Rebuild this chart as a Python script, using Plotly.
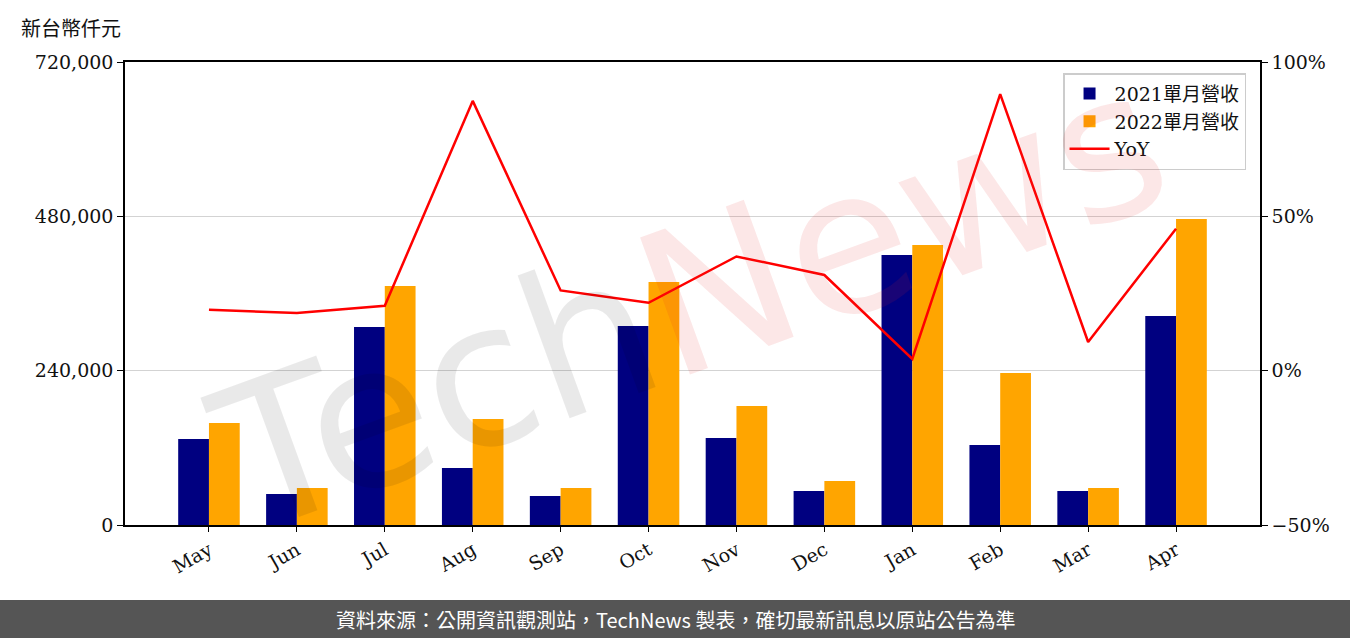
import plotly.graph_objects as go

months = ["May", "Jun", "Jul", "Aug", "Sep", "Oct", "Nov", "Dec", "Jan", "Feb", "Mar", "Apr"]
rev_2021 = [133700, 48200, 307900, 88600, 45100, 309400, 135300, 52900, 419900, 124400, 52900, 325000]
rev_2022 = [158600, 57500, 371600, 164800, 57500, 377900, 185000, 68400, 435400, 236400, 57500, 475800]
yoy = [0.197, 0.187, 0.21, 0.874, 0.26, 0.22, 0.37, 0.31, 0.038, 0.896, 0.093, 0.46]

left_ticks = [0, 240000, 480000, 720000]
right_ticks = [-0.5, 0, 0.5, 1.0]

SERIF = "DejaVu Serif, Noto Sans CJK TC, serif"
TICK = dict(family=SERIF, size=19, color="#111111")

fig = go.Figure()
fig.add_trace(go.Bar(x=months, y=rev_2021, name="2021單月營收", marker_color="#000080",
                     marker_line_width=0))
fig.add_trace(go.Bar(x=months, y=rev_2022, name="2022單月營收", marker_color="#FFA500",
                     marker_line_width=0))
fig.add_trace(go.Scatter(x=months, y=yoy, name="YoY", mode="lines",
                         line=dict(color="#FF0000", width=2.5), yaxis="y2"))

fig.update_layout(
    width=1350, height=638,
    margin=dict(l=125, r=90, t=62, b=113, autoexpand=False),
    paper_bgcolor="white", plot_bgcolor="white",
    barmode="group", bargap=0.3, bargroupgap=0,
    font=dict(family=SERIF, size=18, color="#111111"),
    showlegend=True,
    legend=dict(x=0.9877, y=0.976, xanchor="right", yanchor="top",
                bgcolor="rgba(255,255,255,0.85)", bordercolor="#cccccc", borderwidth=1.5,
                font=dict(family=SERIF, size=19), tracegroupgap=4, itemwidth=40),
    xaxis=dict(range=[-0.955, 11.955], tickangle=-30, showline=True, linecolor="black",
               linewidth=1.5, mirror=True, ticks="outside", ticklen=5, tickcolor="black",
               showgrid=False, tickfont=TICK),
    yaxis=dict(range=[0, 720000], tickvals=left_ticks, tickformat=",", showline=True,
               linecolor="black", linewidth=1.5, ticks="outside", ticklen=6, tickcolor="black",
               showgrid=True, gridcolor="#d3d3d3", gridwidth=1, zeroline=False,
               tickfont=TICK),
    yaxis2=dict(range=[-0.5, 1.0], tickvals=right_ticks, tickformat=".0%", overlaying="y",
                side="right", showline=True, linecolor="black", linewidth=1.5,
                ticks="outside", ticklen=6, tickcolor="black", showgrid=False, zeroline=False,
                tickfont=TICK),
)

# unit label
fig.add_annotation(text="新台幣仟元", xref="paper", yref="paper",
                   x=-106 / 1135, y=(525 - 27) / 463, xanchor="left", yanchor="middle",
                   showarrow=False, font=dict(family="Noto Sans CJK TC", size=20, color="#111111"))

# watermark
fig.add_annotation(text="<span style='color:rgba(0,0,0,0.085)'>Tech</span><span style='color:rgba(225,40,40,0.11)'>News</span>",
                   xref="paper", yref="paper", x=(690 - 125) / 1135, y=(525 - 300) / 463,
                   xanchor="center", yanchor="middle", textangle=-20, showarrow=False,
                   font=dict(family="DejaVu Sans", size=200))

# footer band
fig.add_shape(type="rect", xref="paper", yref="paper",
              x0=-125 / 1135, x1=1225 / 1135, y0=(525 - 640) / 463, y1=(525 - 600) / 463,
              fillcolor="#555555", line_width=0, layer="above")
fig.add_annotation(text="資料來源：公開資訊觀測站，TechNews 製表，確切最新訊息以原站公告為準",
                   xref="paper", yref="paper", x=(675 - 125) / 1135, y=(525 - 619) / 463,
                   xanchor="center", yanchor="middle", showarrow=False,
                   font=dict(family="Noto Sans CJK TC", size=20, color="white"))

fig.write_html("out.html", config={"displayModeBar": False},
               post_script="document.body.style.margin='0';document.body.style.overflow='hidden';")
